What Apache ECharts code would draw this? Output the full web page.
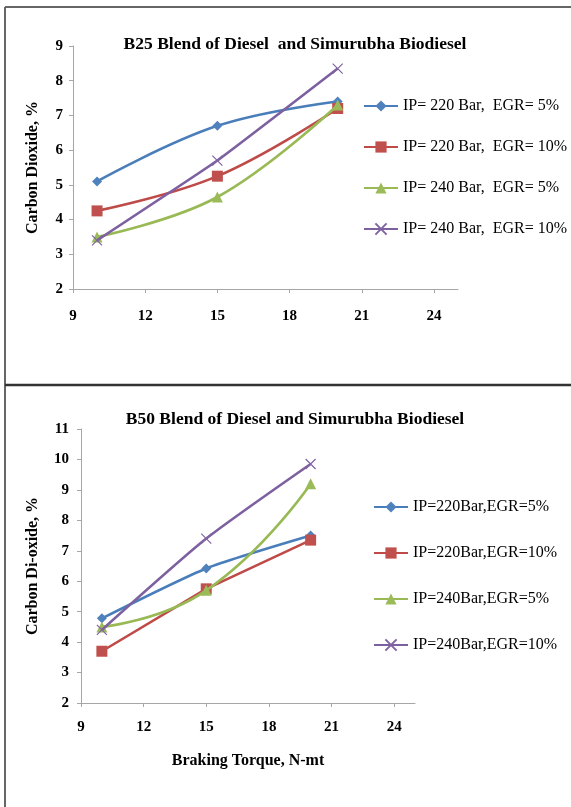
<!DOCTYPE html>
<html>
<head>
<meta charset="utf-8">
<script src="https://cdn.jsdelivr.net/npm/echarts@6/dist/echarts.min.js"></script>
<style>
html,body{margin:0;padding:0;background:#fff;}
#c{width:571px;height:807px;}
</style>
</head>
<body>
<div id="c"></div>
<script>
// ---- data ----
const torque = [10, 15, 20];
const xTicks = [9, 12, 15, 18, 21, 24];

const titleTop = 'B25 Blend of Diesel  and Simurubha Biodiesel';
const titleBottom = 'B50 Blend of Diesel and Simurubha Biodiesel';
const yNameTop = 'Carbon Dioxide, %';
const yNameBottom = 'Carbon Di-oxide, %';
const xNameBottom = 'Braking Torque, N-mt';

const namesTop = ['IP= 220 Bar,  EGR= 5%', 'IP= 220 Bar,  EGR= 10%', 'IP= 240 Bar,  EGR= 5%', 'IP= 240 Bar,  EGR= 10%'];
const namesBottom = ['IP=220Bar,EGR=5%', 'IP=220Bar,EGR=10%', 'IP=240Bar,EGR=5%', 'IP=240Bar,EGR=10%'];

const b25_ip220_egr5 = [5.1, 6.7, 7.4];
const b25_ip220_egr10 = [4.25, 5.25, 7.2];
const b25_ip240_egr5 = [3.5, 4.65, 7.3];
const b25_ip240_egr10 = [3.4, 5.7, 8.35];

const b50_ip220_egr5 = [4.78, 6.42, 7.5];
const b50_ip220_egr10 = [3.7, 5.75, 7.35];
const b50_ip240_egr5 = [4.5, 5.7, 9.2];
const b50_ip240_egr10 = [4.4, 7.4, 9.85];

// ---- styling ----
const FONT = "'Liberation Serif', 'Times New Roman', serif";
const AX = '#A6A6A6';
const lineCol = ['#4A7EBB', '#BE4B48', '#98B954', '#7D60A0'];
const markCol = ['#4F81BD', '#C0504D', '#9BBB59', '#8064A2'];
const symbols = ['diamond', 'rect', 'triangle', 'path://M0,0L10,10M0,10L10,0'];
const symSizes = [10, 11, 11, 10];

function pairs(vals) { return torque.map((x, i) => [x, vals[i]]); }

function mkSeries(name, vals, k, g, smooth) {
  const isCross = k === 3;
  return {
    type: 'line', name: name, xAxisIndex: g, yAxisIndex: g,
    data: pairs(vals), smooth: smooth,
    symbol: symbols[k], symbolSize: symSizes[k], showSymbol: true,
    lineStyle: { color: lineCol[k], width: 2.6 },
    itemStyle: isCross
      ? { color: markCol[k], borderColor: markCol[k], borderWidth: 1.2 }
      : { color: markCol[k], borderColor: markCol[k], borderWidth: 0 },
    emphasis: { disabled: true }, z: 2 + k
  };
}

function xAx(g, withName, margin) {
  const a = {
    gridIndex: g, type: 'value', min: 9, max: 25, interval: 3,
    axisLine: { show: true, onZero: false, lineStyle: { color: AX, width: 1 } },
    axisTick: { show: true, customValues: xTicks, length: 4, lineStyle: { color: AX } },
    axisLabel: { customValues: xTicks, margin: margin, color: '#000', fontFamily: FONT, fontWeight: 'bold', fontSize: 15 },
    splitLine: { show: false }
  };
  if (withName) {
    a.name = xNameBottom; a.nameLocation = 'middle'; a.nameGap = 50;
    a.nameTextStyle = { color: '#000', fontFamily: FONT, fontWeight: 'bold', fontSize: 16 };
  }
  return a;
}
function yAx(g, max, name, gap, margin) {
  return {
    gridIndex: g, type: 'value', min: 2, max: max, interval: 1,
    name: name, nameLocation: 'middle', nameGap: gap,
    nameTextStyle: { color: '#000', fontFamily: FONT, fontWeight: 'bold', fontSize: 16 },
    axisLine: { show: true, lineStyle: { color: AX, width: 1 } },
    axisTick: { show: true, length: 4, lineStyle: { color: AX } },
    axisLabel: { margin: margin, color: '#000', fontFamily: FONT, fontWeight: 'bold', fontSize: 15 },
    splitLine: { show: false }
  };
}

const legendText = { color: '#000', fontFamily: FONT, fontSize: 16 };

const option = {
  animation: false,
  backgroundColor: '#fff',
  title: [
    { text: titleTop, left: 290, top: 30, textAlign: 'center',
      textStyle: { color: '#000', fontFamily: FONT, fontWeight: 'bold', fontSize: 17.5 } },
    { text: titleBottom, left: 290, top: 405, textAlign: 'center',
      textStyle: { color: '#000', fontFamily: FONT, fontWeight: 'bold', fontSize: 17.5 } }
  ],
  grid: [
    { left: 73, top: 46, width: 385, height: 243 },
    { left: 81, top: 429, width: 334, height: 274 }
  ],
  xAxis: [xAx(0, false, 20), xAx(1, true, 17)],
  yAxis: [yAx(0, 9, yNameTop, 32, 10), yAx(1, 11, yNameBottom, 40, 12)],
  legend: [
    { data: namesTop, orient: 'vertical', left: 358, top: 93, itemWidth: 34, itemHeight: 14, itemGap: 25,
      textStyle: legendText, selectedMode: false },
    { data: namesBottom, orient: 'vertical', left: 368, top: 494, itemWidth: 34, itemHeight: 14, itemGap: 30,
      textStyle: legendText, selectedMode: false }
  ],
  series: [
    mkSeries(namesTop[0], b25_ip220_egr5, 0, 0, 0.4),
    mkSeries(namesTop[1], b25_ip220_egr10, 1, 0, 0.4),
    mkSeries(namesTop[2], b25_ip240_egr5, 2, 0, 0.4),
    mkSeries(namesTop[3], b25_ip240_egr10, 3, 0, 0.1),
    mkSeries(namesBottom[0], b50_ip220_egr5, 0, 1, 0.2),
    mkSeries(namesBottom[1], b50_ip220_egr10, 1, 1, false),
    mkSeries(namesBottom[2], b50_ip240_egr5, 2, 1, 0.5),
    mkSeries(namesBottom[3], b50_ip240_egr10, 3, 1, 0.2)
  ],
  graphic: [
    { type: 'line', shape: { x1: 5, y1: 7, x2: 5, y2: 807 }, style: { stroke: '#666', lineWidth: 2 } },
    { type: 'line', shape: { x1: 5, y1: 7, x2: 571, y2: 7 }, style: { stroke: '#666', lineWidth: 2 } },
    { type: 'line', shape: { x1: 5, y1: 385, x2: 571, y2: 385 }, style: { stroke: '#333', lineWidth: 2.5 } }
  ]
};

const chart = echarts.init(document.getElementById('c'), null, { renderer: 'canvas' });
chart.setOption(option);
</script>
</body>
</html>
